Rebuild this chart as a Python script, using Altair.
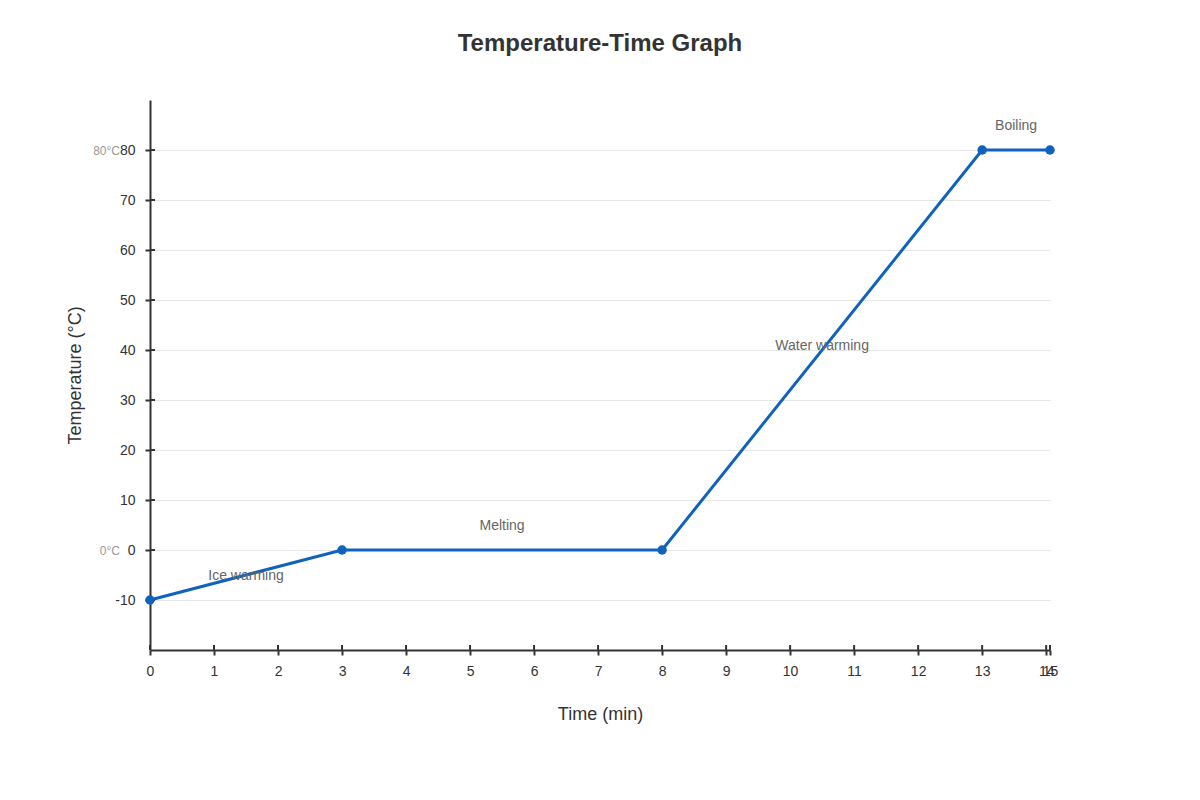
import altair as alt
import pandas as pd

# Heating curve readings
time_min = [0, 3, 8, 13, 14.06]
temp_c = [-10, 0, 0, 80, 80]

# Phase annotations
phase_names = ["Ice warming", "Melting", "Water warming", "Boiling"]
phase_time = [1.5, 5.5, 10.5, 13.53]
phase_temp = [-5, 5, 41, 85]

# Axis ticks and reference labels
x_ticks = list(range(15)) + [14.06]
y_ticks = list(range(-10, 81, 10))
ref_temps = [0, 80]
ref_labels = ["0°C", "80°C"]

FONT = "Liberation Sans"
BLUE = "#0f63bd"
DARK = "#333333"

df = pd.DataFrame({"time": time_min, "temp": temp_c})
df_phase = pd.DataFrame({"name": phase_names, "time": phase_time, "temp": phase_temp})
df_xt = pd.DataFrame({"time": x_ticks})
df_yt = pd.DataFrame({"temp": y_ticks})
df_ref = pd.DataFrame({"temp": ref_temps, "label": ref_labels})

xs = alt.Scale(domain=[0, 14.06], nice=False, zero=False)
ys = alt.Scale(domain=[-20, 90], nice=False, zero=False)

x_axis = alt.Axis(
    title="Time (min)",
    values=x_ticks,
    labelExpr="datum.value > 14.01 ? '15' : datum.label",
    labelOverlap=False,
    labelFlush=False,
    grid=False,
    tickSize=5,
    tickWidth=2,
    tickColor=DARK,
    domainColor=DARK,
    domainWidth=2,
    labelPadding=9,
    labelFontSize=14,
    labelColor=DARK,
    titleFontSize=18,
    titleFontWeight="normal",
    titleColor=DARK,
    titlePadding=27,
)
y_axis = alt.Axis(
    title="Temperature (°C)",
    values=y_ticks,
    labelExpr="replace(datum.label, '\u2212', '-')",
    labelOverlap=False,
    labelFlush=False,
    grid=True,
    gridColor="#e6e6e6",
    gridWidth=1,
    tickSize=5,
    tickWidth=2,
    tickColor=DARK,
    domainColor=DARK,
    domainWidth=2,
    labelPadding=10,
    labelFontSize=14,
    labelColor=DARK,
    titleFontSize=18,
    titleFontWeight="normal",
    titleColor=DARK,
    titlePadding=30,
)

X = alt.X("time:Q", scale=xs, axis=x_axis)
Y = alt.Y("temp:Q", scale=ys, axis=y_axis)

line = alt.Chart(df).mark_line(color=BLUE, strokeWidth=3).encode(x=X, y=Y)
points = (
    alt.Chart(df)
    .mark_point(filled=True, color=BLUE, size=90, opacity=1)
    .encode(x=X, y=Y)
)
phases = (
    alt.Chart(df_phase)
    .mark_text(font=FONT, fontSize=14, color="#666666", baseline="middle", dy=1)
    .encode(x=X, y=Y, text="name:N")
)
refs = (
    alt.Chart(df_ref)
    .mark_text(font=FONT, fontSize=12, color="#999999", align="right", baseline="middle", dy=1)
    .encode(x=alt.value(-30), y=Y, text="label:N")
)
# inner halves of the tick marks
x_inner = (
    alt.Chart(df_xt)
    .mark_rule(color=DARK, strokeWidth=2)
    .encode(x=X, y=alt.value(545), y2=alt.value(550))
)
y_inner = (
    alt.Chart(df_yt)
    .mark_rule(color=DARK, strokeWidth=2)
    .encode(y=Y, x=alt.value(0), x2=alt.value(5))
)

chart = (
    alt.layer(line, x_inner, y_inner, points, phases, refs)
    .properties(
        width=900,
        height=550,
        padding={"left": 142, "top": 92, "right": 142, "bottom": 142},
        autosize=alt.AutoSizeParams(type="none"),
        title=alt.TitleParams(
            "Temperature-Time Graph",
            font=FONT,
            fontSize=24,
            fontWeight="bold",
            color=DARK,
            offset=44,
        ),
    )
    .configure_view(stroke=None)
    .configure_axis(labelFont=FONT, titleFont=FONT)
)

chart.save("out.html", embed_options={"renderer": "svg", "actions": False})
